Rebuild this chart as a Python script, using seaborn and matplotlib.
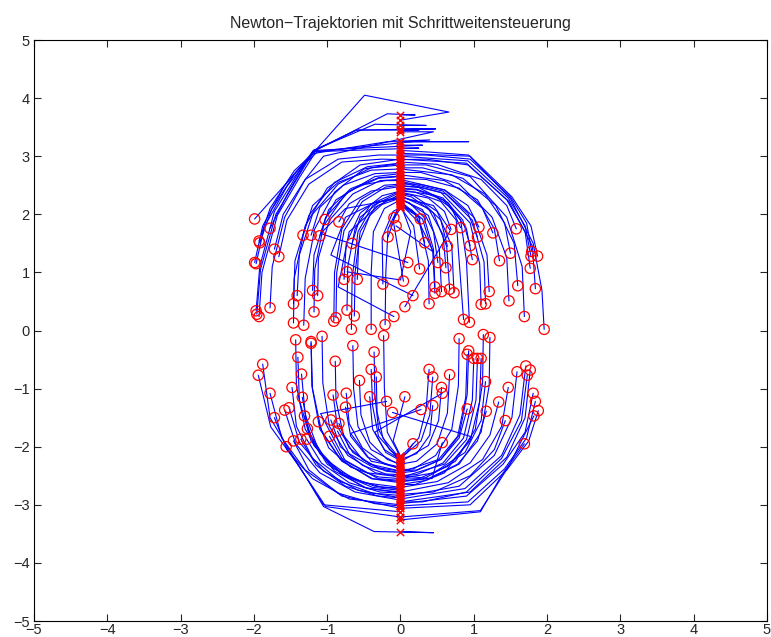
import numpy as np
import pandas as pd
import matplotlib
matplotlib.use("Agg")
import matplotlib.pyplot as plt
import seaborn as sns

# Newton-Trajektorien: Startpunkt (Kreis) ... Endpunkt (Kreuz)
upper_paths = [
    [(1.96, 0.02), (1.93, 0.69), (1.81, 1.50), (1.50, 2.27), (0.93, 3.02), (0.40, 3.07), (0, 3.10)],
    [(1.84, 0.72), (1.80, 1.45), (1.48, 2.22), (0.92, 2.85), (0.35, 2.95), (0, 2.94)],
    [(1.69, 0.24), (1.66, 1.10), (1.45, 1.95), (0.95, 2.65), (0.35, 2.85), (0, 2.85)],
    [(1.60, 0.77), (1.55, 1.50), (1.30, 2.15), (0.85, 2.62), (0.30, 2.80), (0, 2.80)],
    [(1.48, 0.51), (1.45, 1.25), (1.25, 1.95), (0.80, 2.52), (0.28, 2.72), (0, 2.72)],
    [(1.79, 1.36), (1.72, 1.85), (1.50, 2.30), (0.95, 2.95), (0.35, 3.02), (0, 3.02)],
    [(1.78, 1.28), (1.70, 1.80), (1.47, 2.28), (0.92, 2.92), (0, 3.00)],
    [(1.87, 1.28), (1.78, 1.80), (1.52, 2.30), (0.95, 3.00), (0, 3.05)],
    [(1.77, 1.07), (1.70, 1.70), (1.45, 2.25), (0.90, 2.88), (0, 2.95)],
    [(1.58, 1.75), (1.45, 2.15), (1.10, 2.60), (0.50, 2.86), (0, 2.90)],
    [(1.50, 1.33), (1.42, 1.85), (1.15, 2.35), (0.70, 2.68), (0, 2.78)],
    [(1.35, 1.20), (1.28, 1.75), (1.05, 2.25), (0.60, 2.58), (0, 2.68)],
    [(1.26, 1.68), (1.12, 2.10), (0.80, 2.45), (0.35, 2.60), (0, 2.62)],
    [(1.07, 1.78), (0.92, 2.15), (0.60, 2.42), (0.25, 2.52), (0, 2.52)],
    [(1.05, 1.61), (0.92, 2.02), (0.62, 2.35), (0.25, 2.47), (0, 2.48)],
    [(0.82, 1.77), (0.70, 2.10), (0.45, 2.33), (0, 2.42)],
    [(0.69, 1.74), (0.60, 2.05), (0.38, 2.28), (0, 2.38)],
    [(0.95, 1.46), (0.85, 1.90), (0.58, 2.28), (0.22, 2.43), (0, 2.45)],
    [(0.98, 1.22), (0.90, 1.75), (0.65, 2.20), (0.25, 2.46), (0, 2.50)],
    [(1.21, 0.67), (1.18, 1.30), (1.00, 1.95), (0.60, 2.42), (0, 2.60)],
    [(1.10, 0.45), (1.08, 1.15), (0.95, 1.85), (0.55, 2.38), (0, 2.55)],
    [(1.16, 0.46), (1.14, 1.18), (0.98, 1.90), (0.58, 2.40), (0, 2.57)],
    [(0.86, 0.19), (0.80, 1.20), (0.76, 1.90), (0.55, 2.22), (0.20, 2.38), (0, 2.40)],
    [(0.94, 0.14), (0.90, 1.20), (0.82, 1.90), (0.58, 2.25), (0.22, 2.42), (0, 2.44)],
    [(0.64, 1.45), (0.55, 1.90), (0.32, 2.18), (0, 2.30)],
    [(0.51, 1.17), (0.45, 1.70), (0.30, 2.08), (0, 2.26)],
    [(0.62, 1.08), (0.58, 1.65), (0.38, 2.10), (0, 2.32)],
    [(0.47, 0.75), (0.45, 1.40), (0.32, 1.95), (0.12, 2.20), (0, 2.24)],
    [(0.47, 0.64), (0.44, 1.35), (0.30, 1.92), (0, 2.22)],
    [(0.56, 0.67), (0.53, 1.40), (0.38, 1.98), (0, 2.28)],
    [(0.67, 0.71), (0.63, 1.45), (0.45, 2.02), (0.15, 2.30), (0, 2.34)],
    [(0.73, 0.65), (0.70, 1.45), (0.50, 2.05), (0.18, 2.32), (0, 2.36)],
    [(0.39, 0.46), (0.38, 1.20), (0.26, 1.85), (0, 2.18)],
    [(0.27, 1.92), (0.15, 2.08), (0, 2.14)],
    [(0.33, 1.51), (0.25, 1.95), (0, 2.16)],
    [(0.26, 1.06), (0.18, 1.80), (0, 2.12)],
    [(0.10, 1.17), (-1.09, 1.67), (-0.75, 2.10), (0, 2.28)],
    [(0.04, 0.85), (-0.10, 1.90), (0, 2.12)],
    [(0.06, 0.41), (0.68, 1.72), (0.45, 2.15), (0, 2.30)],
    [(0.17, 0.60), (-0.95, 1.30), (-0.75, 1.95), (-0.35, 2.20), (0, 2.30)],
    [(-0.09, 1.94), (0, 2.10)],
    [(-0.06, 1.80), (0.45, 1.35), (0.20, 2.00), (0, 2.20)],
    [(-0.17, 1.61), (-0.05, 2.05), (0, 2.12)],
    [(-0.24, 0.80), (-0.25, 1.60), (-0.10, 2.05), (0, 2.12)],
    [(-0.09, 0.24), (-0.85, 0.75), (-0.70, 1.70), (-0.30, 2.15), (0, 2.28)],
    [(-0.73, 1.01), (0.00, 0.87), (0.14, 1.70), (0, 2.18)],
    [(-1.97, 0.34), (-1.92, 1.10), (-1.72, 2.05), (-1.40, 2.70), (-1.20, 3.08), (-0.60, 3.45), (0.48, 3.47), (0, 3.47)],
    [(-1.96, 0.28), (-1.91, 1.05), (-1.70, 2.00), (-1.38, 2.68), (-1.19, 3.08), (-0.18, 3.73), (0.20, 3.71), (0, 3.71)],
    [(-1.93, 0.24), (-1.89, 1.00), (-1.68, 1.98), (-1.37, 2.65), (-1.17, 3.05), (-0.18, 3.25), (0.93, 3.25), (0, 3.25)],
    [(-1.78, 0.39), (-1.75, 1.10), (-1.58, 1.95), (-1.30, 2.60), (-1.05, 3.00), (0.45, 3.42), (0, 3.42)],
    [(-1.46, 0.13), (-1.45, 0.90), (-1.30, 1.80), (-1.00, 2.45), (-0.55, 2.85), (0, 2.95)],
    [(-1.32, 0.09), (-1.30, 0.90), (-1.17, 1.75), (-0.90, 2.38), (-0.50, 2.78), (0, 2.88)],
    [(-1.41, 0.60), (-1.38, 1.30), (-1.20, 2.00), (-0.85, 2.52), (-0.40, 2.80), (0, 2.85)],
    [(-1.46, 0.46), (-1.44, 1.20), (-1.25, 1.98), (-0.90, 2.55), (-0.45, 2.82), (0, 2.88)],
    [(-1.20, 0.69), (-1.18, 1.30), (-1.02, 1.95), (-0.70, 2.40), (-0.30, 2.62), (0, 2.65)],
    [(-1.13, 0.60), (-1.12, 1.25), (-0.97, 1.90), (-0.65, 2.35), (-0.28, 2.58), (0, 2.60)],
    [(-1.18, 0.32), (-1.17, 1.05), (-1.05, 1.80), (-0.75, 2.35), (-0.35, 2.65), (0, 2.70)],
    [(-0.91, 0.16), (-0.90, 1.00), (-0.80, 1.75), (-0.55, 2.25), (-0.22, 2.50), (0, 2.52)],
    [(-0.88, 0.22), (-0.87, 1.00), (-0.77, 1.72), (-0.52, 2.22), (-0.20, 2.47), (0, 2.50)],
    [(-0.73, 0.35), (-0.72, 1.10), (-0.62, 1.75), (-0.40, 2.18), (0, 2.40)],
    [(-0.63, 0.25), (-0.62, 1.00), (-0.55, 1.70), (-0.35, 2.12), (0, 2.35)],
    [(-0.40, 0.02), (-0.40, 1.00), (-0.37, 1.70), (-0.22, 2.10), (0, 2.25)],
    [(-0.21, 0.10), (-0.20, 1.00), (-0.17, 1.75), (0, 2.20)],
    [(-0.67, 0.02), (-0.66, 0.90), (-0.58, 1.70), (-0.38, 2.15), (0, 2.38)],
    [(-0.77, 0.88), (-0.74, 1.50), (-0.55, 2.02), (-0.25, 2.32), (0, 2.40)],
    [(-0.59, 0.88), (-0.57, 1.50), (-0.42, 1.98), (-0.18, 2.25), (0, 2.30)],
    [(-0.66, 1.50), (-0.55, 1.95), (-0.28, 2.22), (0, 2.28)],
    [(-1.33, 1.64), (-1.20, 2.15), (-0.85, 2.55), (-0.40, 2.76), (0, 2.78)],
    [(-1.22, 1.64), (-1.10, 2.12), (-0.78, 2.50), (-0.35, 2.70), (0, 2.72)],
    [(-1.10, 1.63), (-0.98, 2.08), (-0.68, 2.44), (-0.30, 2.63), (0, 2.66)],
    [(-1.03, 1.91), (-0.88, 2.25), (-0.55, 2.50), (-0.20, 2.58), (0, 2.58)],
    [(-0.84, 1.87), (-0.70, 2.18), (-0.40, 2.40), (0, 2.48)],
    [(-1.99, 1.92), (-0.49, 4.05), (0.66, 3.76), (0, 3.62)],
    [(-1.78, 1.76), (-1.50, 2.45), (-1.19, 3.10), (-0.35, 3.55), (0.35, 3.53), (0, 3.53)],
    [(-1.93, 1.54), (-1.78, 2.10), (-1.45, 2.75), (-1.15, 3.10), (0.30, 3.19), (0, 3.19)],
    [(-1.92, 1.51), (-1.76, 2.08), (-1.43, 2.72), (-1.13, 3.08), (0.25, 3.14), (0, 3.14)],
    [(-1.72, 1.40), (-1.60, 2.00), (-1.30, 2.60), (-0.85, 2.95), (-0.30, 3.02), (0, 3.02)],
    [(-1.66, 1.27), (-1.55, 1.90), (-1.25, 2.52), (-0.80, 2.90), (-0.25, 2.95), (0, 2.94)],
    [(-1.99, 1.17), (-1.88, 1.80), (-1.58, 2.50), (-1.18, 3.10), (-0.60, 3.45), (0.25, 3.45), (0, 3.45)],
    [(-1.97, 1.15), (-1.86, 1.78), (-1.55, 2.48), (-1.17, 3.08), (0.40, 3.28), (0, 3.26)],
]

lower_paths = [
    [(-1.94, -0.77), (-1.77, -1.66), (-1.41, -2.29), (-1.02, -3.03), (0, -3.21)],
    [(-1.88, -0.58), (-1.78, -1.50), (-1.45, -2.20), (-1.05, -3.00), (0, -3.12)],
    [(-1.78, -1.08), (-1.62, -1.85), (-1.30, -2.40), (-0.80, -2.85), (0, -3.06)],
    [(-1.72, -1.50), (-1.55, -2.05), (-1.20, -2.55), (-0.70, -2.90), (0, -3.00)],
    [(-1.58, -1.37), (-1.43, -1.95), (-1.10, -2.45), (-0.62, -2.78), (0, -2.92)],
    [(-1.52, -1.33), (-1.38, -1.92), (-1.05, -2.42), (-0.58, -2.75), (0, -2.88)],
    [(-1.56, -2.00), (-1.30, -2.50), (-1.05, -3.03), (-0.36, -3.46), (0.45, -3.48), (0, -3.46)],
    [(-1.46, -1.90), (-1.25, -2.40), (-0.85, -2.80), (-0.35, -2.98), (0, -3.02)],
    [(-1.36, -1.87), (-1.15, -2.32), (-0.75, -2.68), (-0.30, -2.85), (0, -2.88)],
    [(-1.28, -1.87), (-1.08, -2.28), (-0.70, -2.62), (-0.28, -2.78), (0, -2.80)],
    [(-1.43, -0.16), (-1.42, -0.95), (-1.30, -1.70), (-1.00, -2.30), (-0.50, -2.70), (0, -2.80)],
    [(-1.40, -0.46), (-1.38, -1.20), (-1.22, -1.90), (-0.90, -2.42), (-0.45, -2.72), (0, -2.78)],
    [(-1.35, -0.75), (-1.30, -1.45), (-1.12, -2.05), (-0.80, -2.48), (-0.38, -2.70), (0, -2.75)],
    [(-1.48, -0.98), (-1.42, -1.65), (-1.20, -2.20), (-0.82, -2.60), (-0.38, -2.80), (0, -2.84)],
    [(-1.34, -1.15), (-1.25, -1.75), (-1.02, -2.22), (-0.65, -2.55), (-0.25, -2.70), (0, -2.72)],
    [(-1.31, -1.47), (-1.18, -1.98), (-0.90, -2.38), (-0.50, -2.62), (0, -2.70)],
    [(-1.27, -1.69), (-1.10, -2.12), (-0.78, -2.48), (-0.35, -2.68), (0, -2.72)],
    [(-1.12, -1.57), (-0.98, -2.02), (-0.68, -2.35), (-0.30, -2.52), (0, -2.55)],
    [(-1.22, -0.19), (-1.21, -0.95), (-1.10, -1.70), (-0.82, -2.22), (-0.40, -2.55), (0, -2.62)],
    [(-1.22, -0.22), (-1.20, -1.00), (-1.08, -1.72), (-0.80, -2.25), (-0.38, -2.55), (0, -2.60)],
    [(-1.07, -0.10), (-1.06, -0.90), (-0.97, -1.65), (-0.72, -2.15), (-0.34, -2.45), (0, -2.52)],
    [(-0.65, -0.26), (-0.64, -1.00), (-0.58, -1.65), (-0.40, -2.05), (0, -2.32)],
    [(-0.36, -0.37), (-0.35, -1.10), (-0.30, -1.70), (-0.15, -2.05), (0, -2.20)],
    [(-0.23, -0.09), (-0.22, -1.00), (-0.18, -1.75), (0, -2.18)],
    [(-0.89, -0.53), (-0.88, -1.20), (-0.78, -1.80), (-0.52, -2.22), (-0.20, -2.42), (0, -2.45)],
    [(-0.40, -0.67), (-0.38, -1.30), (-0.30, -1.82), (0, -2.25)],
    [(-0.33, -0.80), (-0.32, -1.40), (-0.24, -1.85), (0, -2.22)],
    [(-0.56, -0.86), (-0.54, -1.45), (-0.42, -1.92), (-0.18, -2.22), (0, -2.30)],
    [(-0.92, -1.11), (-0.86, -1.65), (-0.65, -2.10), (-0.30, -2.38), (0, -2.45)],
    [(-0.74, -1.08), (-0.70, -1.60), (-0.52, -2.02), (-0.22, -2.30), (0, -2.38)],
    [(-0.42, -1.14), (-0.38, -1.70), (-0.22, -2.05), (0, -2.22)],
    [(-0.19, -1.22), (-1.09, -1.43), (-0.75, -2.25), (-0.30, -2.55), (0, -2.58)],
    [(0.06, -1.14), (-0.10, -1.90), (0, -2.16)],
    [(-0.95, -1.54), (-0.82, -2.00), (-0.52, -2.32), (-0.20, -2.47), (0, -2.48)],
    [(-0.84, -1.60), (-0.70, -2.02), (-0.42, -2.30), (0, -2.42)],
    [(-0.75, -1.32), (-0.68, -1.82), (-0.45, -2.18), (0, -2.38)],
    [(-0.86, -1.73), (-0.70, -2.12), (-0.38, -2.35), (0, -2.42)],
    [(-0.97, -1.82), (-0.80, -2.20), (-0.45, -2.45), (0, -2.52)],
    [(-0.11, -1.41), (0.97, -1.83), (0.60, -2.45), (0.20, -2.65), (0, -2.65)],
    [(1.69, -1.95), (1.40, -2.45), (1.09, -3.12), (0, -3.26)],
    [(1.82, -1.47), (1.47, -2.35), (1.09, -3.10), (0, -3.21)],
    [(1.88, -1.38), (1.75, -1.90), (1.45, -2.40), (0.95, -3.00), (0, -3.06)],
    [(1.84, -1.22), (1.72, -1.85), (1.42, -2.38), (0.92, -2.95), (0, -3.02)],
    [(1.81, -1.08), (1.70, -1.75), (1.40, -2.30), (0.90, -2.85), (0, -2.98)],
    [(1.73, -0.77), (1.65, -1.55), (1.38, -2.20), (0.90, -2.78), (0.30, -2.95), (0, -2.95)],
    [(1.77, -0.68), (1.70, -1.50), (1.45, -2.18), (0.95, -2.78), (0, -2.95)],
    [(1.71, -0.61), (1.63, -1.45), (1.38, -2.15), (0.88, -2.72), (0, -2.90)],
    [(1.59, -0.71), (1.52, -1.50), (1.28, -2.15), (0.80, -2.68), (0, -2.86)],
    [(1.47, -0.98), (1.38, -1.65), (1.12, -2.22), (0.65, -2.62), (0, -2.78)],
    [(1.43, -1.55), (1.28, -2.05), (0.95, -2.50), (0.45, -2.78), (0, -2.82)],
    [(1.34, -1.23), (1.22, -1.80), (0.95, -2.28), (0.50, -2.60), (0, -2.70)],
    [(1.17, -1.39), (1.05, -1.90), (0.78, -2.30), (0.38, -2.55), (0, -2.60)],
    [(0.91, -1.35), (0.80, -1.85), (0.55, -2.22), (0.22, -2.40), (0, -2.42)],
    [(1.16, -0.88), (1.10, -1.55), (0.88, -2.10), (0.45, -2.45), (0, -2.55)],
    [(1.22, -0.12), (1.21, -0.95), (1.10, -1.75), (0.80, -2.30), (0.35, -2.58), (0, -2.65)],
    [(1.13, -0.07), (1.12, -0.90), (1.02, -1.70), (0.75, -2.25), (0.32, -2.55), (0, -2.60)],
    [(0.80, -0.14), (0.79, -0.95), (0.70, -1.70), (0.48, -2.15), (0.18, -2.38), (0, -2.40)],
    [(0.93, -0.35), (0.91, -1.10), (0.80, -1.80), (0.55, -2.22), (0.20, -2.42), (0, -2.45)],
    [(0.91, -0.41), (0.89, -1.15), (0.78, -1.82), (0.52, -2.22), (0, -2.44)],
    [(1.00, -0.48), (0.98, -1.20), (0.86, -1.85), (0.58, -2.28), (0.22, -2.48), (0, -2.50)],
    [(1.05, -0.48), (1.03, -1.20), (0.90, -1.88), (0.60, -2.30), (0, -2.53)],
    [(1.10, -0.48), (1.08, -1.22), (0.95, -1.90), (0.64, -2.34), (0.25, -2.55), (0, -2.56)],
    [(0.39, -0.67), (0.35, -1.35), (0.25, -1.85), (0, -2.18)],
    [(0.44, -0.80), (0.40, -1.45), (0.28, -1.90), (0, -2.20)],
    [(0.67, -0.76), (0.64, -1.42), (0.50, -1.95), (0.22, -2.25), (0, -2.30)],
    [(0.56, -0.98), (0.52, -1.55), (0.38, -1.98), (0, -2.26)],
    [(0.57, -1.08), (-0.35, -1.75), (-0.20, -2.10), (0, -2.24)],
    [(0.28, -1.36), (-0.68, -1.77), (-0.40, -2.25), (0, -2.35)],
    [(0.44, -1.29), (0.40, -1.80), (0.22, -2.12), (0, -2.22)],
    [(0.17, -1.95), (0.08, -2.12), (0, -2.16)],
    [(0.57, -1.93), (0.43, -2.55), (0, -2.50)],
]

ticks = [-5, -4, -3, -2, -1, 0, 1, 2, 3, 4, 5]
title = "Newton\u2212Trajektorien mit Schrittweitensteuerung"

rows = []
for i, path in enumerate(upper_paths + lower_paths):
    for k, (px, py) in enumerate(path):
        rows.append({"traj": i, "step": k, "x": px, "y": py})
df = pd.DataFrame(rows)
starts = df[df.step == 0]
ends = df.groupby("traj").tail(1)

sns.set_style("white")
plt.rcParams["font.family"] = ["Liberation Sans", "DejaVu Sans"]

fig = plt.figure(figsize=(7.71, 6.37), dpi=100)
ax = fig.add_axes([0.0441, 0.0251, 0.9507, 0.9121])

sns.lineplot(data=df, x="x", y="y", units="traj", estimator=None, sort=False,
             color="#0000ff", linewidth=0.8, ax=ax, legend=False)
sns.scatterplot(data=starts, x="x", y="y", marker="o", s=55, facecolor="none",
                edgecolor="#ff0000", linewidth=0.9, ax=ax, legend=False, zorder=3)
sns.scatterplot(data=ends, x="x", y="y", marker="x", s=28, color="#ff0000",
                linewidth=1.0, ax=ax, legend=False, zorder=3)

ax.set_xlim(-5, 5)
ax.set_ylim(-5, 5)
ax.set_xticks(ticks)
ax.set_yticks(ticks)
ax.set_xticklabels([str(t).replace("-", "\u2212") for t in ticks])
ax.set_yticklabels([str(t).replace("-", "\u2212") for t in ticks])
ax.set_xlabel("")
ax.set_ylabel("")
ax.tick_params(direction="in", length=5, width=0.8, labelsize=10.5,
               top=True, right=True, bottom=True, left=True)
ax.tick_params(axis="x", pad=1.5)
ax.tick_params(axis="y", pad=3)
for s in ax.spines.values():
    s.set_color("black")
    s.set_linewidth(0.8)
ax.set_title(title, fontsize=11.5, pad=9)

fig.savefig("out.png", dpi=100)
